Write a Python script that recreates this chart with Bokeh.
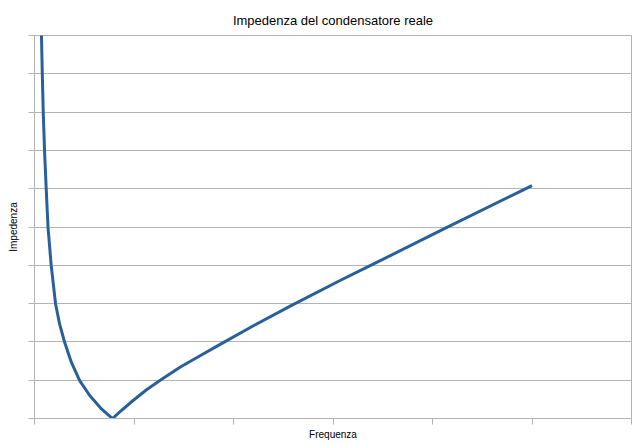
from bokeh.plotting import figure
from bokeh.embed import file_html
from bokeh.resources import INLINE
from bokeh.models import Range1d, FixedTicker, ColumnDataSource, CustomJSTickFormatter

# Values (x: frequency units, y: impedance units)
freq = [0.064, 0.070, 0.0785, 0.088, 0.1008, 0.118, 0.136, 0.168, 0.212,
        0.252, 0.303, 0.370, 0.454, 0.555, 0.673, 0.773, 0.784,
        0.857, 0.991, 1.126, 1.260, 1.462, 1.664, 1.848, 2.2, 2.589, 3.076, 3.358,
        4.084, 4.857, 5.0]
impedance = [10.8, 10.0, 8.98, 7.99, 7.00, 5.98, 4.99, 3.99, 2.99,
             2.47, 1.99, 1.47, 0.99, 0.60, 0.25, 0.025, 0.0,
             0.17, 0.47, 0.75, 0.99, 1.34, 1.64, 1.91, 2.42, 2.96, 3.61, 3.97,
             4.91, 5.90, 6.08]
x_ticks = [0, 1, 2, 3, 4, 5, 6]
y_ticks = [0, 1, 2, 3, 4, 5, 6, 7, 8, 9, 10]

title_text = "Impedenza del condensatore reale"
x_label = "Frequenza"
y_label = "Impedenza"

src = ColumnDataSource(dict(x=freq, y=impedance))

p = figure(width=640, height=445, output_backend="svg", toolbar_location=None,
           x_range=Range1d(0, 6), y_range=Range1d(0, 10),
           min_border_left=34, min_border_right=9, min_border_bottom=27,
           min_border_top=35)

p.title.text = title_text
p.title.align = "center"
p.title.text_font = "Liberation Sans"
p.title.text_font_size = "13px"
p.title.text_font_style = "normal"
p.title.text_color = "#000000"
p.title.standoff = 16

p.line("x", "y", source=src, line_color="#2a6099", line_width=3,
       line_join="round")

grey = "#b3b3b3"
p.outline_line_color = grey
p.outline_line_width = 1
p.xgrid.grid_line_color = None
p.ygrid.grid_line_color = grey
p.ygrid.grid_line_width = 1

blank = CustomJSTickFormatter(code="return ''")
for ax in (p.xaxis, p.yaxis):
    ax.axis_line_color = grey
    ax.major_tick_line_color = grey
    ax.minor_tick_line_color = None
    ax.major_tick_in = 0
    ax.major_tick_out = 6
    ax.formatter = blank
    ax.major_label_standoff = 0
    ax.axis_label_text_font = "Liberation Sans"
    ax.axis_label_text_font_size = "10px"
    ax.axis_label_text_font_style = "normal"
    ax.axis_label_text_color = "#000000"

p.xaxis.ticker = FixedTicker(ticks=x_ticks)
p.yaxis.ticker = FixedTicker(ticks=y_ticks)
p.xaxis.axis_label = x_label
p.yaxis.axis_label = y_label
p.xaxis.axis_label_standoff = 4
p.yaxis.axis_label_standoff = 10

open("out.html", "w").write(file_html(p, INLINE))
